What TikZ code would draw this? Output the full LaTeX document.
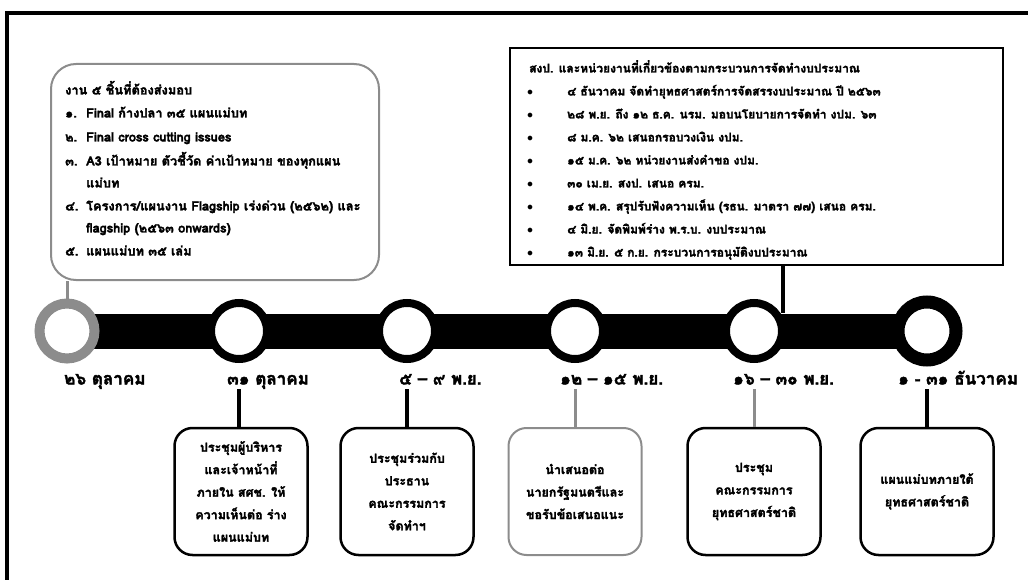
\documentclass[tikz,border=0pt]{standalone}
\usepackage{fontspec}
\setmainfont[Script=Thai, BoldFeatures={FakeBold=2.3}]{Loma}
\begin{document}
\begin{tikzpicture}[x=1pt,y=-1pt,
  txt/.style={anchor=west, inner sep=0pt, font=\fontsize{12}{14}\selectfont\bfseries, text height=8pt, text depth=3pt},
  bigtxt/.style={txt, font=\fontsize{12.8}{14}\selectfont\bfseries},
  datelabel/.style={anchor=west, inner sep=0pt, font=\fontsize{17}{20}\selectfont\bfseries, text height=11pt, text depth=4pt},
  ring/.style={circle, draw=black, fill=white, inner sep=0pt, line width=8pt, minimum size=56pt},
  lowbox/.style={draw=black, line width=2.5pt, rounded corners=18pt, minimum width=133pt, minimum height=127pt, align=center, inner sep=2pt, font=\fontsize{12.5}{22.5}\selectfont\bfseries},
  blackline/.style={line width=4pt, draw=black},
  grayline/.style={line width=3pt, draw=black!45},
]
\useasboundingbox (0,0) rectangle (1028,580);
% outer frame (top and left edges)
\draw[line width=4pt] (7,580) -- (7,13) -- (1028,13);

% timeline positions
\coordinate (p1) at (67,331);
\coordinate (p2) at (239,331);
\coordinate (p3) at (407,331);
\coordinate (p4) at (575,331);
\coordinate (p5) at (754,331);
\coordinate (p6) at (927,331);
\draw[line width=35pt] (p1) -- (p6);

% top boxes
\node[draw=black!45, line width=2pt, rounded corners=25pt, minimum width=328pt, minimum height=216pt] (tlbox) at (215,172) {};
\node[draw=black, line width=2pt, minimum width=493pt, minimum height=217pt] (trbox) at (756.5,156.5) {};
\coordinate (j) at (783,313);
\draw[blackline] (trbox.south -| j) -- (j);

% circles
\node[ring, draw=black!45, line width=10pt, minimum size=55pt] (c1) at (p1) {};
\node[ring] (c2) at (p2) {};
\node[ring] (c3) at (p3) {};
\node[ring] (c4) at (p4) {};
\node[ring] (c5) at (p5) {};
\node[ring, line width=13pt, minimum size=58pt] (c6) at (p6) {};
\draw[grayline] (tlbox.south -| c1) -- (c1.north);

% top-left text
\node[bigtxt] (a0) at (65,92) {งาน ๕ ชิ้นที่ต้องส่งมอบ};
\node[bigtxt] (a1n) at (65,115) {๑.};
\node[bigtxt] (a1) at (86,115) {Final ก้างปลา ๓๕ แผนแม่บท};
\node[bigtxt] (a2n) at (65,139) {๒.};
\node[bigtxt] (a2) at (86,139) {Final cross cutting issues};
\node[bigtxt] (a3n) at (65,163) {๓.};
\node[bigtxt] (a3) at (86,163) {A3 เป้าหมาย ตัวชี้วัด ค่าเป้าหมาย ของทุกแผน};
\node[bigtxt] (a3b) at (86,185) {แม่บท};
\node[bigtxt] (a4n) at (65,208) {๔.};
\node[bigtxt] (a4) at (86,208) {โครงการ/แผนงาน Flagship เร่งด่วน (๒๕๖๒) และ};
\node[bigtxt] (a4b) at (86,230) {flagship (๒๕๖๓ onwards)};
\node[bigtxt] (a5n) at (65,253) {๕.};
\node[bigtxt] (a5) at (86,253) {แผนแม่บท ๓๕ เล่ม};

% top-right text
\node[txt] (b0) at (529,70) {สงป. และหน่วยงานที่เกี่ยวข้องตามกระบวนการจัดทำงบประมาณ};
\node[txt] (b1n) at (527,93) {$\bullet$};
\node[txt] (b1) at (567,93) {๔ ธันวาคม จัดทำยุทธศาสตร์การจัดสรรงบประมาณ ปี ๒๕๖๓};
\node[txt] (b2n) at (527,116) {$\bullet$};
\node[txt] (b2) at (567,116) {๒๘ พ.ย. ถึง ๑๒ ธ.ค. นรม. มอบนโยบายการจัดทำ งปม. ๖๓};
\node[txt] (b3n) at (527,139) {$\bullet$};
\node[txt] (b3) at (567,139) {๘ ม.ค. ๖๒ เสนอกรอบวงเงิน งปม.};
\node[txt] (b4n) at (527,162) {$\bullet$};
\node[txt] (b4) at (567,162) {๑๕ ม.ค. ๖๒ หน่วยงานส่งคำขอ งปม.};
\node[txt] (b5n) at (527,185) {$\bullet$};
\node[txt] (b5) at (567,185) {๓๐ เม.ย. สงป. เสนอ ครม.};
\node[txt] (b6n) at (527,208) {$\bullet$};
\node[txt] (b6) at (567,208) {๑๔ พ.ค. สรุปรับฟังความเห็น (รธน. มาตรา ๗๗) เสนอ ครม.};
\node[txt] (b7n) at (527,231) {$\bullet$};
\node[txt] (b7) at (567,231) {๔ มิ.ย. จัดพิมพ์ร่าง พ.ร.บ. งบประมาณ};
\node[txt] (b8n) at (527,254) {$\bullet$};
\node[txt] (b8) at (567,254) {๑๓ มิ.ย. ๕ ก.ย. กระบวนการอนุมัติงบประมาณ};

% date labels
\node[datelabel] (l1) at (64,381) {๒๖ ตุลาคม};
\node[datelabel] (l2) at (227,381) {๓๑ ตุลาคม};
\node[datelabel] (l3) at (399,381) {๕ – ๙ พ.ย.};
\node[datelabel] (l4) at (560,381) {๑๒ – ๑๕ พ.ย.};
\node[datelabel] (l5) at (733,381) {๑๖ – ๓๐ พ.ย.};
\node[datelabel] (l6) at (898,381) {๑ - ๓๑ ธันวาคม};

% lower boxes
\node[lowbox] (d2) at (241,491.5) {ประชุมผู้บริหาร\\และเจ้าหน้าที่\\ภายใน สศช. ให้\\ความเห็นต่อ ร่าง\\แผนแม่บท};
\node[lowbox] (d3) at (407,491.5) {ประชุมร่วมกับ\\ประธาน\\คณะกรรมการ\\จัดทำฯ};
\node[lowbox, draw=black!45, line width=2pt] (d4) at (575,491.5) {นำเสนอต่อ\\นายกรัฐมนตรีและ\\ขอรับข้อเสนอแนะ};
\node[lowbox] (d5) at (754,491.5) {ประชุม\\คณะกรรมการ\\ยุทธศาสตร์ชาติ};
\node[lowbox] (d6) at (927,491.5) {แผนแม่บทภายใต้\\ยุทธศาสตร์ชาติ};

\draw[blackline] (d2.north -| c2) -- (c2 |- l2.south);
\draw[blackline] (d3.north -| c3) -- (c3 |- l3.south);
\draw[grayline] (d4.north -| c4) -- (c4 |- l4.south);
\draw[grayline] (d5.north -| c5) -- (c5 |- l5.south);
\draw[blackline] (d6.north -| c6) -- (c6 |- l6.south);
\end{tikzpicture}
\end{document}
